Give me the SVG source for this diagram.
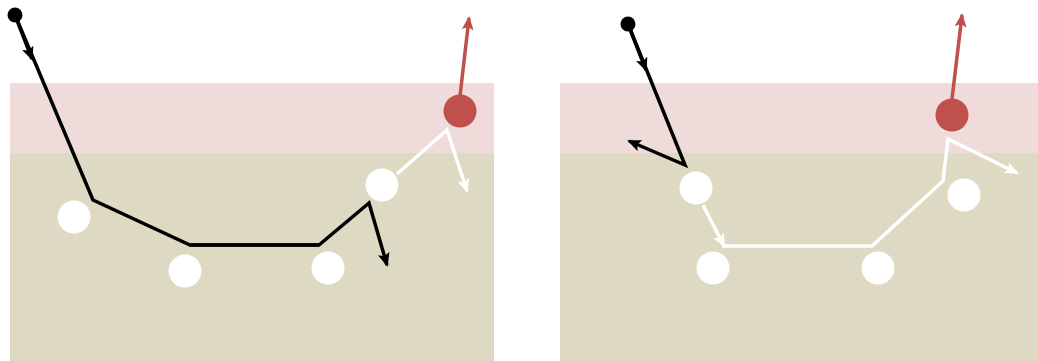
<svg xmlns="http://www.w3.org/2000/svg" width="1038" height="361" viewBox="0 0 1038 361">
<style>
.pink{fill:#f0dbdb}
.tan{fill:#ddd9c3}
.blk{fill:none;stroke:#000;stroke-width:3.5;stroke-linejoin:miter}
.wht{fill:none;stroke:#fff;stroke-width:3.5;stroke-linejoin:miter}
.red{fill:none;stroke:#c0504d;stroke-width:3.5}
.wc{fill:#fff}
.rc{fill:#c0504d}
</style>
<defs>
<marker id="ab" markerUnits="userSpaceOnUse" markerWidth="14" markerHeight="12" viewBox="0 0 14 12" refX="12" refY="6" orient="auto"><path d="M0,0 L14,6 L0,12 L3,6 Z" fill="#000"/></marker>
<marker id="aw" markerUnits="userSpaceOnUse" markerWidth="14" markerHeight="12" viewBox="0 0 14 12" refX="12" refY="6" orient="auto"><path d="M0,0 L14,6 L0,12 L3,6 Z" fill="#fff"/></marker>
<marker id="ar" markerUnits="userSpaceOnUse" markerWidth="14" markerHeight="12" viewBox="0 0 14 12" refX="12" refY="6" orient="auto"><path d="M0,0 L14,6 L0,12 L3,6 Z" fill="#c0504d"/></marker>
</defs>
<g id="bg">
<rect class="pink" x="10" y="83" width="484" height="70"/>
<rect class="tan" x="10" y="153" width="484" height="208"/>
<rect class="pink" x="560" y="83" width="478" height="70"/>
<rect class="tan" x="560" y="153" width="478" height="208"/>
</g>
<g id="connectors">
<path class="blk" d="M15,15 L32,59" marker-end="url(#ab)"/>
<path class="blk" d="M15,15 L93,200 L190,245 L319,245 L369,203 L387,265" marker-end="url(#ab)"/>
<path class="blk" d="M190,245 L319,245" stroke-width="4.5"/>
<path class="wht" d="M397,174 L447,130 L467,191" marker-end="url(#aw)"/>
<path class="red" d="M460,96 L469,18" marker-end="url(#ar)"/>
<path class="blk" d="M628,24 L646,70" marker-end="url(#ab)"/>
<path class="blk" d="M628,24 L685,165 L629,141" marker-end="url(#ab)"/>
<path class="wht" d="M703,205 L724,246" marker-end="url(#aw)"/>
<path class="wht" d="M722,246 L872,246 L943,181 L948,139 L1017,173" marker-end="url(#aw)"/>
<path class="red" d="M952,99 L962,15" marker-end="url(#ar)"/>
</g>
<g id="n1"><circle cx="15" cy="15" r="7.5" fill="#000"/></g>
<g id="n2"><circle class="wc" cx="74" cy="217" r="16.5"/></g>
<g id="n3"><circle class="wc" cx="185" cy="271" r="16.5"/></g>
<g id="n4"><circle class="wc" cx="328" cy="268" r="16.5"/></g>
<g id="n5"><circle class="wc" cx="382" cy="185" r="16.5"/></g>
<g id="n6"><circle class="rc" cx="460" cy="111" r="16.5"/></g>
<g id="n7"><circle cx="628" cy="24" r="7.5" fill="#000"/></g>
<g id="n8"><circle class="wc" cx="696" cy="188" r="16.5"/></g>
<g id="n9"><circle class="wc" cx="713" cy="268" r="16.5"/></g>
<g id="n10"><circle class="wc" cx="878" cy="268" r="16.5"/></g>
<g id="n11"><circle class="wc" cx="964" cy="195" r="16.5"/></g>
<g id="n12"><circle class="rc" cx="952" cy="115" r="16.5"/></g>
</svg>
